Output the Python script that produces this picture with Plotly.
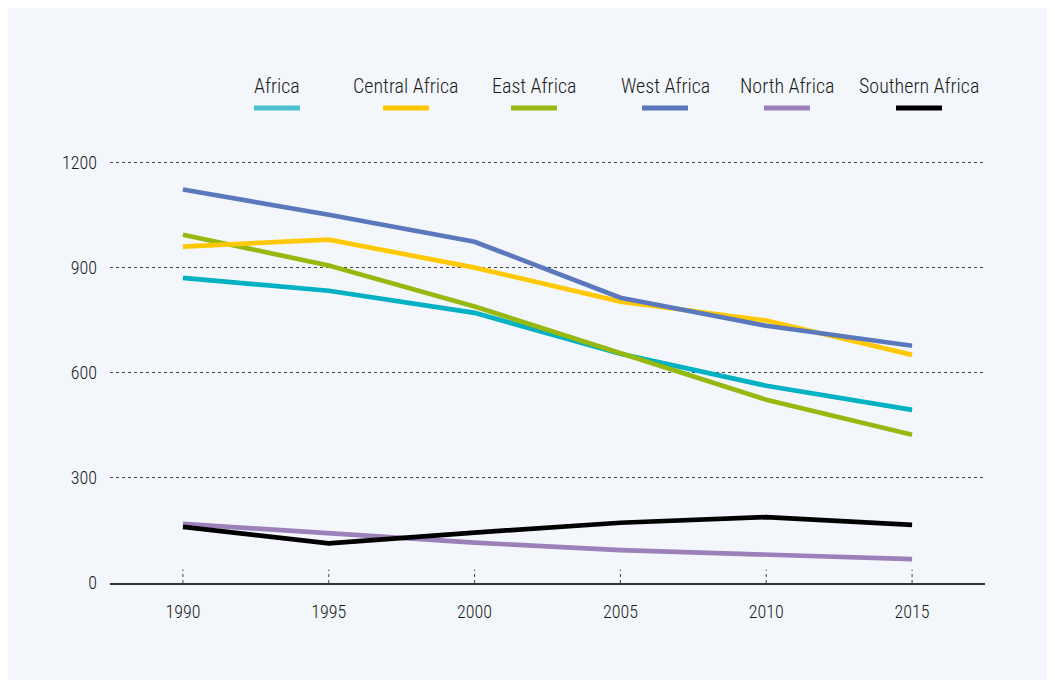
import plotly.graph_objects as go

years = [1990, 1995, 2000, 2005, 2010, 2015]
series_names = ["Africa", "Central Africa", "East Africa", "West Africa", "North Africa", "Southern Africa"]
africa = [871, 834, 771, 654, 563, 494]
central_africa = [960, 980, 900, 803, 749, 651]
east_africa = [994, 906, 789, 657, 523, 423]
west_africa = [1123, 1051, 974, 814, 734, 677]
north_africa = [169, 142, 115, 94, 82, 68]
southern_africa = [160, 113, 144, 172, 188, 166]
y_ticks = [0, 300, 600, 900, 1200]

line_colors = ["#00b0c3", "#ffc800", "#95b90f", "#5b78bd", "#9b80ba", "#000000"]
swatch_colors = ["#4bbfcf", "#ffc800", "#95b90f", "#5b78bd", "#9b80ba", "#000000"]
values = [africa, central_africa, east_africa, west_africa, north_africa, southern_africa]

FONT = "Roboto Condensed, DejaVu Sans Condensed, Roboto, sans-serif"
BG = "#f3f7fc"

fig = go.Figure()
order = [4, 5, 0, 2, 1, 3]
for i in order:
    fig.add_trace(go.Scatter(
        x=years, y=values[i], name=series_names[i], mode="lines",
        line=dict(color=line_colors[i], width=4.7),
        showlegend=False, hoverinfo="x+y+name"))

shapes = []
for yr in years:
    shapes.append(dict(type="line", xref="x", yref="y", x0=yr, x1=yr, y0=0, y1=38,
                       line=dict(color="#444", width=1, dash="dot")))

PH = 424.0
legend_centers = [277, 406, 534, 665, 787, 919]
annotations = []
for name, col, cx in zip(series_names, swatch_colors, legend_centers):
    px = (cx - 110) / 875
    annotations.append(dict(text=name, x=px, y=(583 - 86) / PH, xref="paper", yref="paper",
                            showarrow=False, xanchor="center", yanchor="middle",
                            font=dict(family=FONT, size=20, color="#1a1a1a", weight=300)))
    half = 23 / 875
    shapes.append(dict(type="line", xref="paper", yref="paper",
                       x0=px - half, x1=px + half,
                       y0=(583 - 108) / PH, y1=(583 - 108) / PH,
                       line=dict(color=col, width=5)))

fig.update_layout(
    width=1043, height=672,
    paper_bgcolor=BG, plot_bgcolor=BG,
    margin=dict(l=102, r=66, t=151, b=97),
    font=dict(family=FONT, size=18, color="#1a1a1a"),
    showlegend=False,
    shapes=shapes,
    annotations=annotations,
    xaxis=dict(range=[1987.5, 2017.5], tickvals=years, ticktext=[str(y) for y in years],
               showgrid=False, zeroline=False, showline=True, linecolor="#333", linewidth=1.5,
               ticks="", ticklabelstandoff=12,
               tickfont=dict(family=FONT, size=18, color="#1a1a1a", weight=300)),
    yaxis=dict(range=[0, 1210], tickvals=y_ticks, showgrid=True, gridcolor="#444", gridwidth=1,
               griddash="dot", zeroline=False, showline=False, ticks="",
               ticklabelstandoff=12,
               tickfont=dict(family=FONT, size=18, color="#1a1a1a", weight=300)),
)

fig.write_html("out.html")
